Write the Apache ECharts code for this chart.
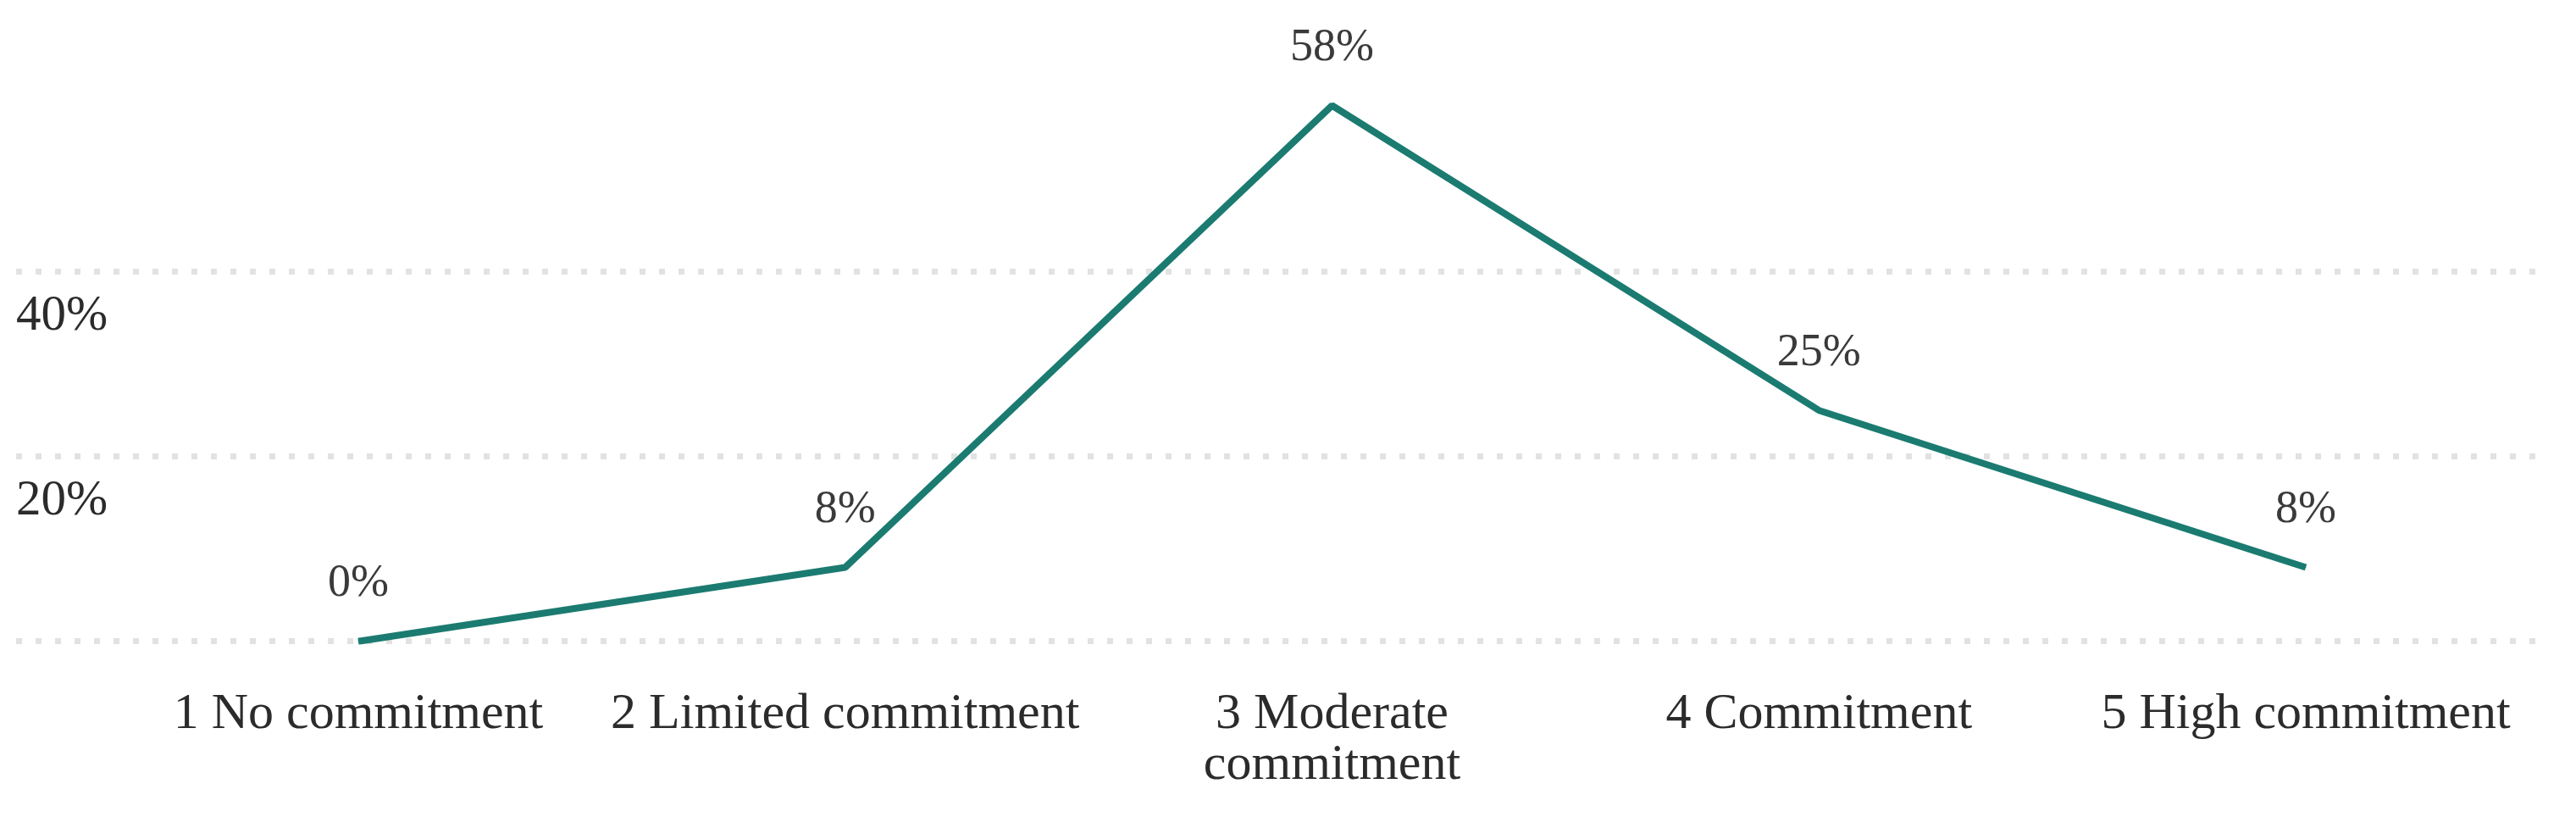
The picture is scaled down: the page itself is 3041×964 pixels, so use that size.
<!DOCTYPE html>
<html>
<head>
<meta charset="utf-8">
<script src="https://cdn.jsdelivr.net/npm/echarts@6/dist/echarts.min.js"></script>
<style>
html,body{margin:0;padding:0;background:#fff;}
#chart{width:3041px;height:964px;}
</style>
</head>
<body>
<div id="chart"></div>
<script>
const categories = ['1 No commitment', '2 Limited commitment', '3 Moderate\ncommitment', '4 Commitment', '5 High commitment'];
const values = [0, 8, 58, 25, 8];
const yTicks = [0, 20, 40, 60];

const FONT = "'Liberation Serif', 'Times New Roman', serif";
const chart = echarts.init(document.getElementById('chart'), null, {renderer: 'canvas'});
const TOP = 102.7, BOTTOM = 207.3;
chart.setOption({
  animation: false,
  backgroundColor: '#ffffff',
  grid: [
    {left: 19, right: 44, top: TOP, bottom: BOTTOM, containLabel: false},
    {left: 135.6, right: 31.6, top: TOP, bottom: BOTTOM, containLabel: false}
  ],
  xAxis: [
    {type: 'value', gridIndex: 0, min: 0, max: 1, show: false},
    {type: 'category', gridIndex: 1, data: categories, boundaryGap: true,
     axisLine: {show: false}, axisTick: {show: false},
     axisLabel: {interval: 0, margin: 57, fontFamily: FONT, fontSize: 60, lineHeight: 60, color: '#2b2b2b'}}
  ],
  yAxis: [
    {type: 'value', gridIndex: 0, min: yTicks[0], max: yTicks[yTicks.length - 1], interval: 20,
     axisLine: {show: false}, axisTick: {show: false},
     splitLine: {show: true, showMaxLine: false, lineStyle: {color: '#e2e2e2', width: 7, type: [7, 16]}},
     axisLabel: {showMinLabel: false, showMaxLabel: false, inside: false, margin: 0, align: 'left',
       verticalAlign: 'top', padding: [23, 0, 0, 0],
       formatter: v => v + '%', fontFamily: FONT, fontSize: 59, lineHeight: 59, color: '#2b2b2b'}},
    {type: 'value', gridIndex: 1, min: yTicks[0], max: yTicks[yTicks.length - 1], show: false,
     splitLine: {show: false}}
  ],
  series: [{
    type: 'line', xAxisIndex: 1, yAxisIndex: 1, data: values,
    symbol: 'circle', symbolSize: 1, showSymbol: true,
    lineStyle: {color: '#1b7b71', width: 8},
    itemStyle: {color: '#1b7b71'},
    label: {show: true, position: 'top', distance: 40, formatter: '{c}%',
      fontFamily: FONT, fontSize: 54, color: '#3a3a3a'}
  }]
});
</script>
</body>
</html>
